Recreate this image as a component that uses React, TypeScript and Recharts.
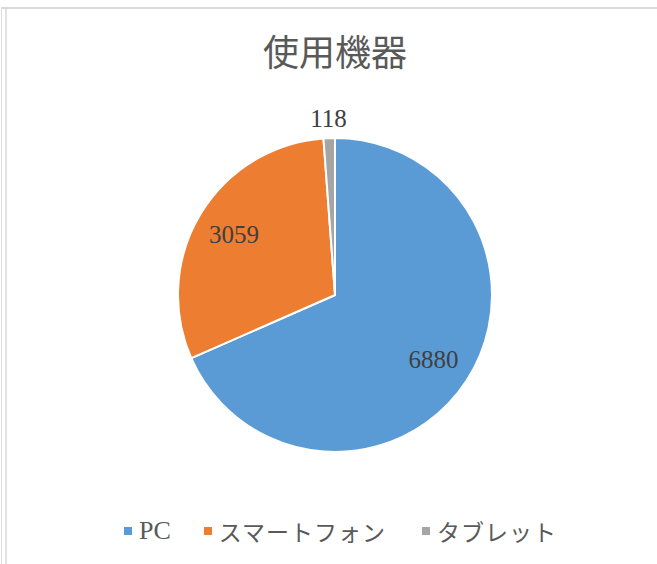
import React from "react";
import { Cell, Legend, Pie, PieChart } from "recharts";

const categories = ["PC", "スマートフォン", "タブレット"];
const values = [6880, 3059, 118];
const COLORS = ["#5B9BD5", "#ED7D31", "#A5A5A5"];

const chartData = categories.map((name, i) => ({ name, value: values[i] }));

const FONT = '"Liberation Serif", "DejaVu Serif", "Noto Sans CJK JP", serif';
const RAD = Math.PI / 180;

function renderLabel(props: any) {
  const { cx, cy, midAngle, outerRadius, index, value } = props;
  const r = index === 2 ? outerRadius + 20 : outerRadius * 0.75;
  const x = cx + r * Math.cos(-midAngle * RAD);
  const y = cy + r * Math.sin(-midAngle * RAD);
  return (
    <text
      x={x}
      y={y + 8.5}
      textAnchor="middle"
      fill="#404040"
      fontSize={25}
      fontFamily={FONT}
    >
      {value}
    </text>
  );
}

function renderLegend() {
  return (
    <div
      style={{
        display: "flex",
        justifyContent: "center",
        fontFamily: FONT,
        fontSize: 23,
        color: "#595959",
        paddingLeft: 24,
      }}
    >
      {chartData.map((d, i) => (
        <div
          key={d.name}
          style={{ display: "flex", alignItems: "center", marginLeft: i === 0 ? 0 : i === 1 ? 33 : 36 }}
        >
          <span
            style={{
              width: 8,
              height: 8,
              background: COLORS[i],
              display: "inline-block",
              marginRight: 7,
            }}
          />
          <span style={i === 0 ? { fontSize: 26 } : { letterSpacing: 1 }}>{d.name}</span>
        </div>
      ))}
    </div>
  );
}

export default function App() {
  return (
    <div style={{ position: "absolute", left: 0, top: 0, width: 657, height: 564, background: "#fff" }}>
      <div
        style={{
          position: "absolute",
          left: 1,
          top: 7,
          width: 656,
          height: 557,
          borderTop: "2px solid #d9d9d9",
          borderLeft: "1px solid #e0e0e0",
          boxSizing: "border-box",
        }}
      />
      <div
        style={{
          position: "absolute",
          left: 5,
          top: 9,
          width: 2,
          height: 555,
          background: "#e3e3e3",
        }}
      />
      <div
        style={{
          position: "absolute",
          left: 0,
          top: 28,
          width: 670,
          textAlign: "center",
          fontFamily: FONT,
          fontSize: 36,
          lineHeight: "52px",
          color: "#595959",
        }}
      >
        使用機器
      </div>
      <PieChart width={657} height={564} style={{ position: "absolute", left: 0, top: 0 }}>
        <Pie
          data={chartData}
          dataKey="value"
          nameKey="name"
          cx={330}
          cy={290}
          outerRadius={157}
          startAngle={90}
          endAngle={-270}
          stroke="#fff"
          strokeWidth={2}
          labelLine={false}
          label={renderLabel}
          isAnimationActive={false}
        >
          {chartData.map((_, i) => (
            <Cell key={i} fill={COLORS[i]} />
          ))}
        </Pie>
        <Legend
          content={renderLegend}
          verticalAlign="bottom"
          wrapperStyle={{ bottom: 16 }}
        />
      </PieChart>
    </div>
  );
}
